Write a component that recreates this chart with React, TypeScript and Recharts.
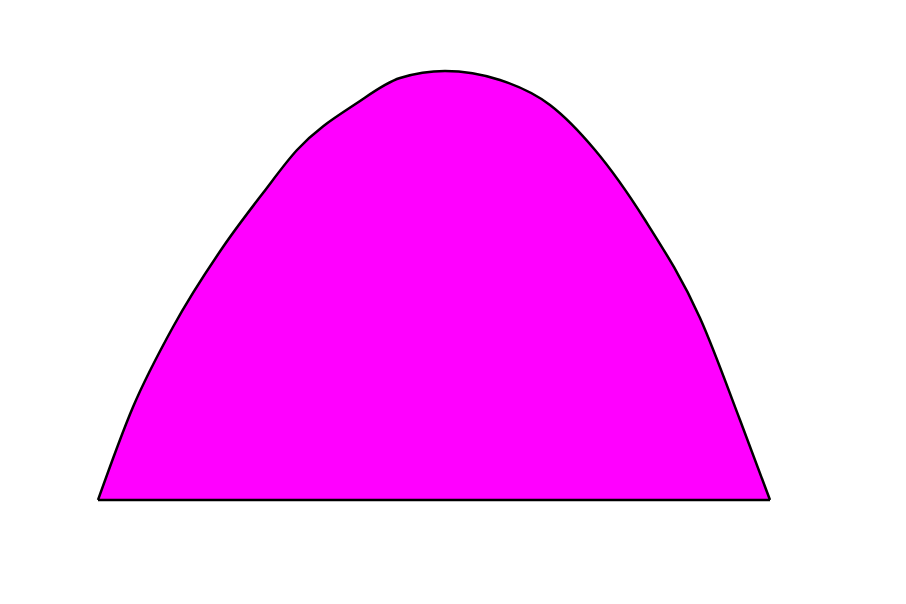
import React from 'react';
import { AreaChart, Area, XAxis, YAxis, ReferenceLine } from 'recharts';

const xs = [98, 133, 173, 223, 263, 297, 357, 400, 445, 500, 550, 595, 645, 700, 740, 770];
const ys = [104, 197, 277, 357, 411, 454, 501, 526, 533, 524, 499, 454, 384, 286, 184, 104];
const data = xs.map((x, i) => ({ x, y: ys[i] }));

export default function App() {
  return (
    <div style={{ margin: -8, background: '#fff', width: 906, height: 604 }}>
      <AreaChart width={906} height={604} data={data} margin={{ top: 0, right: 0, bottom: 0, left: 0 }}>
        <XAxis dataKey="x" type="number" domain={[0, 906]} hide />
        <YAxis type="number" domain={[0, 604]} hide />
        <Area dataKey="y" type="monotone" baseValue={104} fill="#ff00ff" fillOpacity={1} stroke="#000" strokeWidth={2.5} isAnimationActive={false} dot={false} />
        <ReferenceLine segment={[{ x: 98, y: 104 }, { x: 770, y: 104 }]} stroke="#000" strokeWidth={2.5} />
      </AreaChart>
    </div>
  );
}
